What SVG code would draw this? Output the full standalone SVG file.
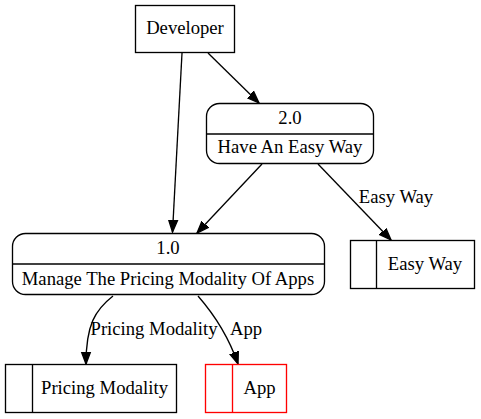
<svg xmlns="http://www.w3.org/2000/svg" width="481" height="419" viewBox="0 0 481 419">
<style>
text{font-family:'Liberation Serif','Times New Roman',serif;font-size:18.67px;fill:#000;text-anchor:middle}
.n{fill:#fff;stroke:#000;stroke-width:1.33}
.e{fill:none;stroke:#000;stroke-width:1.33}
.r{fill:#fff;stroke:#ff0000;stroke-width:1.33}
</style>
<defs>
<marker id="a" markerWidth="14" markerHeight="14" refX="12" refY="6" orient="auto" markerUnits="userSpaceOnUse">
<path d="M0,1.5 L12,6 L0,10.5 Z" fill="#000" stroke="#000" stroke-width="1.33"/>
</marker>
</defs>
<rect width="481" height="419" fill="#fff"/>
<g id="connectors">
<path class="e" d="M182,53 L172.5,232" marker-end="url(#a)"/>
<path class="e" d="M208,53 L259,103" marker-end="url(#a)"/>
<path class="e" d="M262,164 L197,233" marker-end="url(#a)"/>
<path class="e" d="M318,164 L391,240" marker-end="url(#a)"/>
<text x="396" y="203">Easy Way</text>
<path class="e" d="M113,296 C95,310 86,325 86,364" marker-end="url(#a)"/>
<text x="154" y="335">Pricing Modality</text>
<path class="e" d="M198,296 C212,312 228,335 238,364" marker-end="url(#a)"/>
<text x="246" y="335">App</text>
</g>
<g id="developer">
<rect class="n" x="135.5" y="5.5" width="99" height="47"/>
<text x="185" y="34">Developer</text>
</g>
<g id="p2">
<rect class="n" x="206.5" y="103.5" width="167" height="60" rx="13"/>
<line class="e" x1="206.5" y1="134" x2="373.5" y2="134"/>
<text x="290" y="124">2.0</text>
<text x="290" y="153">Have An Easy Way</text>
</g>
<g id="p1">
<rect class="n" x="12.5" y="233.5" width="312" height="61" rx="13"/>
<line class="e" x1="12.5" y1="264" x2="324.5" y2="264"/>
<text x="168" y="254">1.0</text>
<text x="168" y="285">Manage The Pricing Modality Of Apps</text>
</g>
<g id="easyway">
<rect class="n" x="350.5" y="240.5" width="124" height="48"/>
<line class="e" x1="376.5" y1="240.5" x2="376.5" y2="288.5"/>
<text x="425" y="270">Easy Way</text>
</g>
<g id="pricing">
<rect class="n" x="5.5" y="364.5" width="171" height="48"/>
<line class="e" x1="32.5" y1="364.5" x2="32.5" y2="412.5"/>
<text x="104.5" y="394">Pricing Modality</text>
</g>
<g id="app">
<rect class="r" x="205.5" y="364.5" width="81" height="48"/>
<line x1="232.5" y1="364.5" x2="232.5" y2="412.5" stroke="#ff0000" stroke-width="1.33"/>
<text x="259.5" y="394">App</text>
</g>
</svg>
